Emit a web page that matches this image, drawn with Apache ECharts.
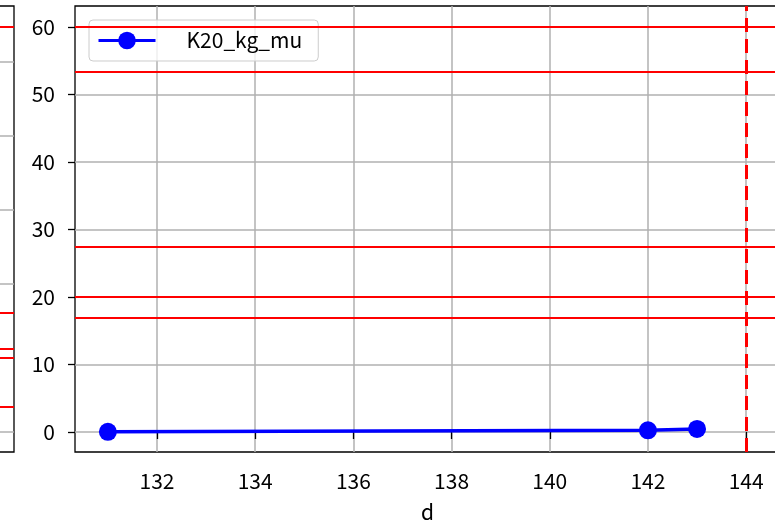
<!DOCTYPE html>
<html>
<head>
<meta charset="utf-8">
<script src="https://cdn.jsdelivr.net/npm/echarts@6/dist/echarts.min.js"></script>
<style>
  html, body { margin: 0; padding: 0; background: #fff; }
  #main { width: 775px; height: 523px; }
</style>
</head>
<body>
<div id="main"></div>
<script>
  var seriesName = 'K20_kg_mu';
  var dayData = [131, 142, 143];
  var valueData = [0.03, 0.25, 0.45];
  var xTicks = [132, 134, 136, 138, 140, 142, 144];
  var yTicks = [0, 10, 20, 30, 40, 50, 60];
  var hLines = [60, 53.3, 27.4, 20, 16.9];
  var vLines = [144];
  // left neighbour panel (only its right edge is in the picture)
  var leftTicks = [0, 1, 2, 3, 4, 5];
  var leftLines = [5.47, 1.61, 1.12, 1.0, 0.34];

  var font = '"Noto Sans CJK JP", "DejaVu Sans", sans-serif';
  var myChart = echarts.init(document.getElementById('main'));

  var points = dayData.map(function (d, i) { return [d, valueData[i]]; });

  var option = {
    animation: false,
    textStyle: { fontFamily: font },
    grid: [
      { left: 75, top: 6, width: 760, height: 446, outerBoundsMode: 'none', show: true, borderColor: '#000', borderWidth: 1.3, backgroundColor: 'transparent' },
      { left: -300, top: 6, width: 314, height: 446, outerBoundsMode: 'none', show: true, borderColor: '#000', borderWidth: 1.3, backgroundColor: 'transparent' }
    ],
    legend: {
      data: [seriesName],
      left: 89,
      top: 20,
      padding: [10, 16, 10, 8],
      itemWidth: 57,
      itemHeight: 22,
      backgroundColor: 'rgba(255,255,255,0.8)',
      borderColor: '#cccccc',
      borderWidth: 1,
      borderRadius: 4,
      lineStyle: { width: 3 },
      textStyle: { fontSize: 21, color: '#000', fontFamily: font, padding: [0, 0, 0, 26] }
    },
    xAxis: [
      {
        gridIndex: 0, type: 'value', min: 130.33, max: 145.81,
        axisLine: { show: false },
        axisTick: { show: true, length: 7, customValues: xTicks, lineStyle: { color: '#000', width: 1.3 } },
        axisLabel: { customValues: xTicks, fontSize: 21, color: '#000', margin: 19 },
        splitLine: { show: true, lineStyle: { color: '#b0b0b0', width: 1.5 } }
      },
      { gridIndex: 1, type: 'value', min: 0, max: 1, show: false }
    ],
    yAxis: [
      {
        gridIndex: 0, type: 'value', min: -2.96, max: 63.11,
        axisLine: { show: false },
        axisTick: { show: true, length: 7, customValues: yTicks, lineStyle: { color: '#000', width: 1.3 } },
        axisLabel: { customValues: yTicks, fontSize: 21, color: '#000', margin: 20 },
        splitLine: { show: true, lineStyle: { color: '#b0b0b0', width: 1.5 } }
      },
      {
        gridIndex: 1, type: 'value', min: -0.27, max: 5.757,
        axisLine: { show: false },
        axisTick: { show: false, customValues: leftTicks },
        axisLabel: { show: false, customValues: leftTicks },
        splitLine: { show: true, lineStyle: { color: '#b0b0b0', width: 1.5 } }
      }
    ],
    series: [
      {
        name: seriesName,
        type: 'line',
        xAxisIndex: 0, yAxisIndex: 0,
        data: points,
        symbol: 'circle',
        symbolSize: 18,
        itemStyle: { color: '#0000ff' },
        lineStyle: { color: '#0000ff', width: 3.5 },
        z: 5,
        markLine: {
          silent: true,
          symbol: 'none',
          label: { show: false },
          data: hLines.map(function (v) {
            return { yAxis: v, lineStyle: { color: '#ff0000', width: 2, type: 'solid' } };
          }).concat(vLines.map(function (v) {
            return { xAxis: v, lineStyle: { color: '#ff0000', width: 3, type: [14, 7] } };
          }))
        }
      },
      {
        name: 'left',
        type: 'line',
        xAxisIndex: 1, yAxisIndex: 1,
        data: [],
        markLine: {
          silent: true,
          symbol: 'none',
          label: { show: false },
          data: leftLines.map(function (v) {
            return { yAxis: v, lineStyle: { color: '#ff0000', width: 2, type: 'solid' } };
          })
        }
      }
    ],
    graphic: [
      { type: 'text', left: 421, top: 502, style: { text: 'd', fontSize: 21, fill: '#000', fontFamily: font } }
    ]
  };
  myChart.setOption(option);
</script>
</body>
</html>
